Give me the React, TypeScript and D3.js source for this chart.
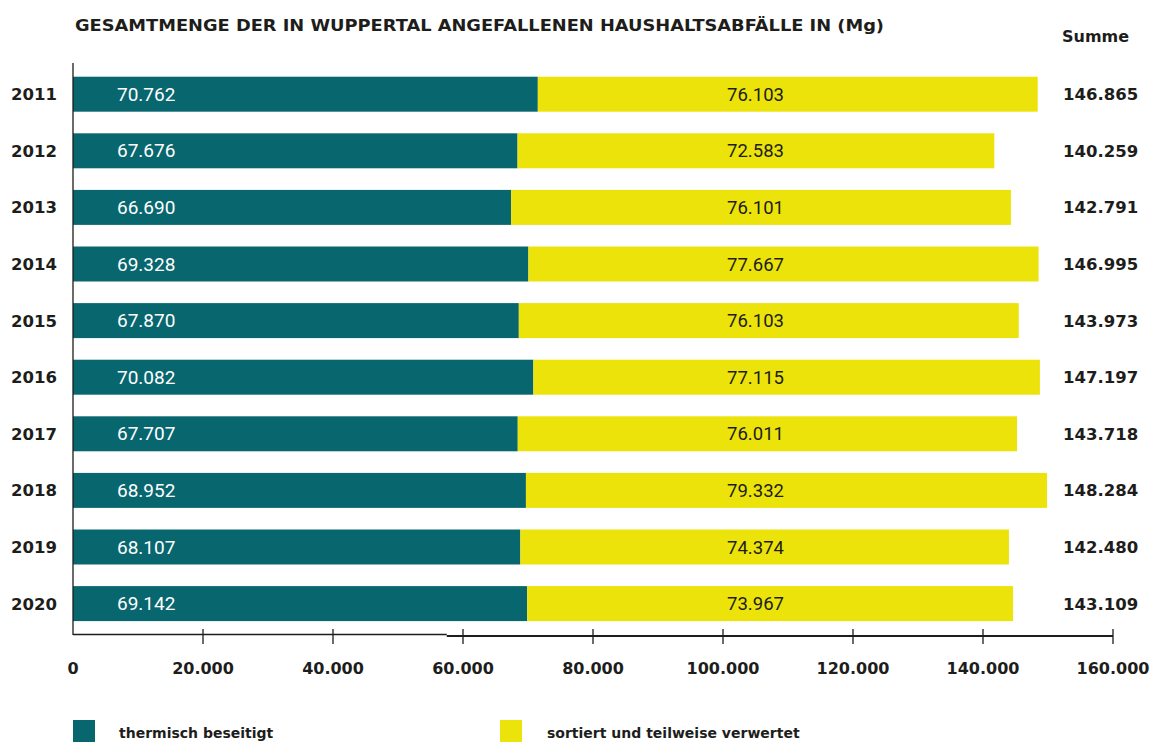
import React from "react";
import * as d3 from "d3";

const years = ["2011", "2012", "2013", "2014", "2015", "2016", "2017", "2018", "2019", "2020"];
const thermisch = [70762, 67676, 66690, 69328, 67870, 70082, 67707, 68952, 68107, 69142];
const sortiert = [76103, 72583, 76101, 77667, 76103, 77115, 76011, 79332, 74374, 73967];
const summen = [146865, 140259, 142791, 146995, 143973, 147197, 143718, 148284, 142480, 143109];
const tickValues = [0, 20000, 40000, 60000, 80000, 100000, 120000, 140000, 160000];
const seriesNames = ["thermisch beseitigt", "sortiert und teilweise verwertet"];
const title = "GESAMTMENGE DER IN WUPPERTAL ANGEFALLENEN HAUSHALTSABFÄLLE IN (Mg)";

const TEAL = "#08666f";
const YELLOW = "#ece30a";
const INK = "#1d1d1b";
const BOLD = "'DejaVu Sans', sans-serif";
const REG = "Roboto, sans-serif";

const fmt = (v: number) => d3.format(",")(v).replace(/,/g, ".");

export default function App() {
  const W = 1156, H = 742;
  const x0 = 73;
  const xAxis = d3.scaleLinear().domain([0, 160000]).range([x0, 1113]);
  const xBar = d3.scaleLinear().domain([0, 160000]).range([x0, 1124]);
  const y = d3.scaleBand<string>().domain(years).range([65.9, 631.9]).paddingInner(0.382).paddingOuter(0.191);
  const bw = y.bandwidth();
  const axisY = 635;
  const yellowLabelX = xAxis(105000);
  const stepX = xAxis(57500);

  return (
    <svg width={W} height={H} style={{ position: "absolute", left: 0, top: 0, background: "#fff" }}>
      <text x={75} y={31} fontFamily={BOLD} fontWeight="bold" fontSize={16} fill={INK}
        textLength={809} lengthAdjust="spacingAndGlyphs">{title}</text>
      <text x={1062} y={42} fontFamily={BOLD} fontWeight="bold" fontSize={16} fill={INK}>Summe</text>

      {years.map((yr, i) => {
        const top = y(yr)!;
        const cy = top + bw / 2;
        return (
          <g key={yr}>
            <rect x={xBar(0)} y={top} width={xBar(thermisch[i]) - xBar(0)} height={bw} fill={TEAL} />
            <rect x={xBar(thermisch[i])} y={top} width={xBar(thermisch[i] + sortiert[i]) - xBar(thermisch[i])} height={bw} fill={YELLOW} />
            <text x={57} y={cy + 6} textAnchor="end" fontFamily={BOLD} fontWeight="bold" fontSize={16.5} fill={INK}>{yr}</text>
            <text x={117} y={cy + 6.5} fontFamily={REG} fontSize={19} fill="#ffffff">{fmt(thermisch[i])}</text>
            <text x={yellowLabelX} y={cy + 6.5} textAnchor="middle" fontFamily={REG} fontSize={18.5} fill={INK}>{fmt(sortiert[i])}</text>
            <text x={1063} y={cy + 6} fontFamily={BOLD} fontWeight="bold" fontSize={16.5} fill={INK}>{fmt(summen[i])}</text>
          </g>
        );
      })}

      <line x1={x0} x2={x0} y1={63} y2={axisY} stroke={INK} strokeWidth={1.3} />
      <line x1={x0} x2={stepX} y1={axisY - 0.5} y2={axisY - 0.5} stroke={INK} strokeWidth={1.3} />
      <line x1={stepX} x2={xAxis(160000)} y1={axisY + 1} y2={axisY + 1} stroke={INK} strokeWidth={2} />
      {tickValues.map((t) => (
        <g key={t}>
          {t > 0 && <line x1={xAxis(t)} x2={xAxis(t)} y1={axisY - 6} y2={axisY + 9} stroke={INK} strokeWidth={1.3} />}
          <text x={xAxis(t)} y={674} textAnchor="middle" fontFamily={BOLD} fontWeight="bold" fontSize={16} fill={INK}>{fmt(t)}</text>
        </g>
      ))}

      <rect x={73} y={720} width={22} height={22} fill={TEAL} />
      <text x={119} y={738} fontFamily={BOLD} fontWeight="bold" fontSize={14} fill={INK}>{seriesNames[0]}</text>
      <rect x={500} y={720} width={22} height={22} fill={YELLOW} />
      <text x={547} y={738} fontFamily={BOLD} fontWeight="bold" fontSize={14} fill={INK}>{seriesNames[1]}</text>
    </svg>
  );
}
